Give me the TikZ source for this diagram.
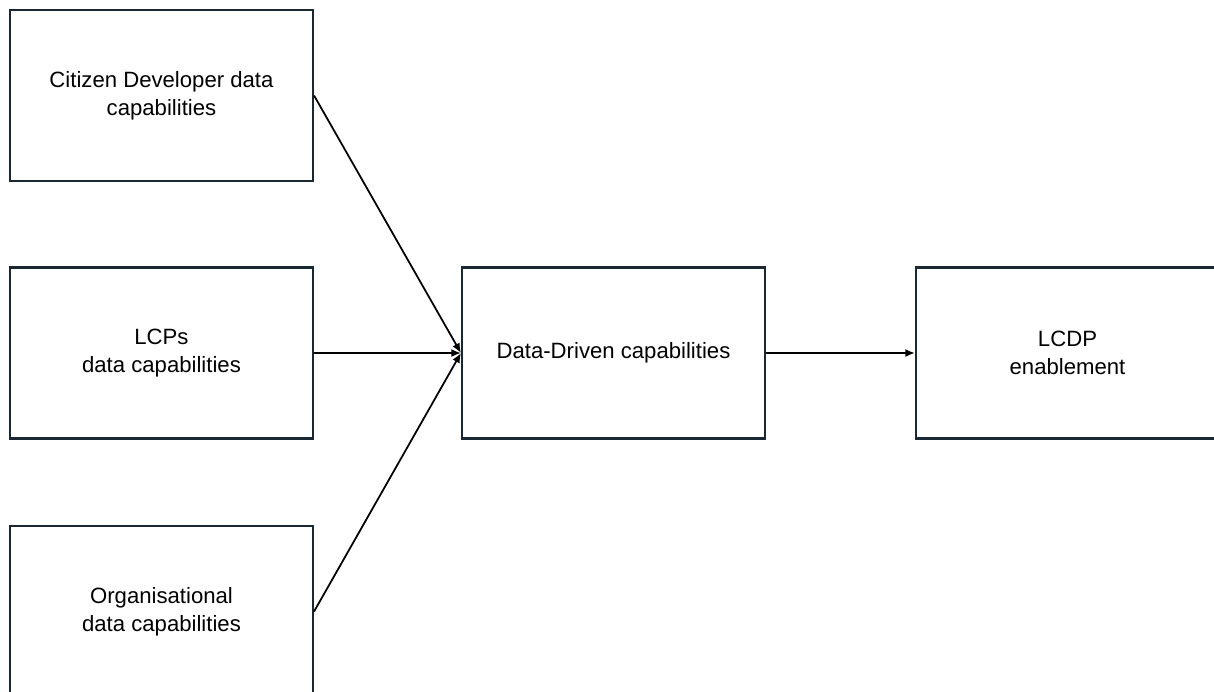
\documentclass[tikz,border=0pt]{standalone}
\usepackage{fontspec}
\setmainfont{Liberation Sans}
\usepackage{xcolor}
\usetikzlibrary{arrows.meta, positioning}
\definecolor{boxline}{RGB}{26,40,52}

\begin{document}
\begin{tikzpicture}
    [>={Latex[length=5.5pt,width=4.6pt]}, line/.style={draw=black, line width=1pt},
    every node/.style={font=\fontsize{12.6}{15.9}\selectfont}]
    % Define styles for the blocks
    \tikzstyle{block} = [draw=boxline, fill=white, rectangle, line width=1.2pt, minimum width=6.06cm, minimum height=3.42cm, align=center, inner sep=0pt]

    % Fix the page size
    \useasboundingbox (0,0) rectangle (24.28,-13.82);

    % Nodes placement
    \node [block] (lcps) at (3.23,-7.06) {LCPs\\data capabilities};
    \node [block, above of=lcps, node distance=5.15cm] (citizen) {Citizen Developer data\\capabilities};
    \node [block, below of=lcps, node distance=5.17cm] (organisation) {Organisational\\data capabilities};
    \node [block, right of=lcps, node distance=9.04cm] (datadriven) {Data-Driven capabilities};
    \node [block, right of=datadriven, node distance=9.08cm] (lcdp) {LCDP\\enablement};

    % Draw edges
    \draw[line,->] (citizen.east) -- (datadriven.west);
    \draw[line,->] (lcps.east) -- (datadriven.west);
    \draw[line,->] (organisation.east) -- (datadriven.west);
    \draw[line,->] (datadriven.east) -- (lcdp.west);
\end{tikzpicture}
\end{document}
